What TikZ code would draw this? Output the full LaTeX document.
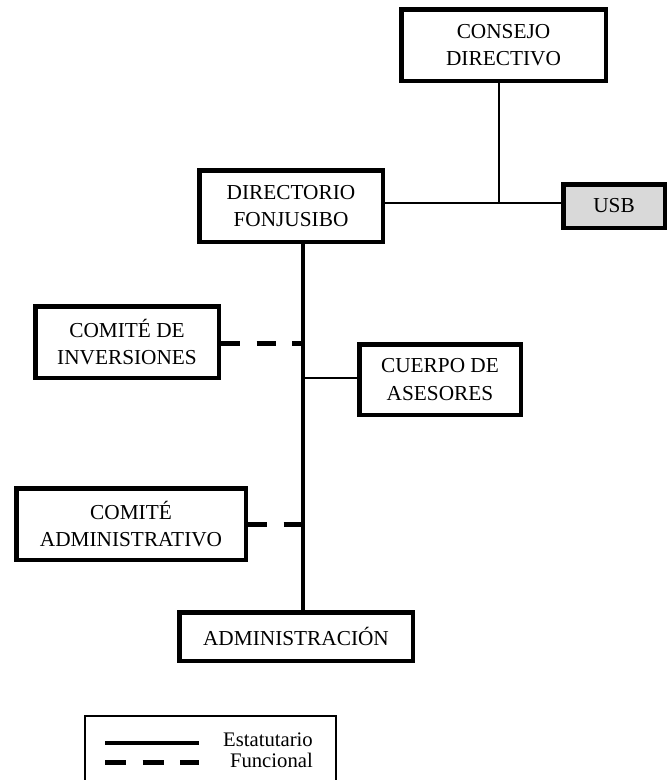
\documentclass[tikz,border=0pt]{standalone}
\usepackage{fontspec}
\setmainfont{Liberation Serif}
\definecolor{usbgray}{RGB}{217,217,217}
\tikzset{
  orgbox/.style={draw=black, line width=4.5pt, rectangle, align=center, inner sep=0pt,
    font=\fontsize{21.3}{27.7}\selectfont},
  thinlink/.style={line width=1.5pt},
  statlink/.style={line width=4pt},
  funclink/.style={line width=5pt, dash pattern=on 19pt off 16.5pt},
  legtext/.style={font=\fontsize{20.7}{24}\selectfont, inner sep=0pt, anchor=base east}
}
\begin{document}
\begin{tikzpicture}[x=1pt, y=-1pt]
\useasboundingbox (0,0) rectangle (670,780);
% boxes
\node[orgbox, minimum width=204.5pt, minimum height=71.5pt] (con) at (503.5,45) {CONSEJO\\DIRECTIVO};
\node[orgbox, minimum width=183.5pt, minimum height=71.5pt] (dir) at (291,206) {DIRECTORIO\\FONJUSIBO};
\node[orgbox, fill=usbgray, minimum width=101.5pt, minimum height=43.5pt] (usb) at (614,206) {USB};
\node[orgbox, minimum width=183.5pt, minimum height=71.5pt] (inv) at (127,342) {COMITÉ DE\\INVERSIONES};
\node[orgbox, minimum width=161.5pt, minimum height=70.5pt] (ase) at (440,379.5) {CUERPO DE\\ASESORES};
\node[orgbox, minimum width=229.5pt, minimum height=71.5pt] (cad) at (131,524) {COMITÉ\\ADMINISTRATIVO};
\node[orgbox, minimum width=233.5pt, minimum height=48.5pt] (adm) at (296,636.5) {ADMINISTRACIÓN};
% helper coordinates
\coordinate (spine) at (303,0);
\coordinate (j1) at (499,203);
\coordinate (jinv) at (303,343);
\coordinate (jase) at (303,378);
\coordinate (jcad) at (303,524);
% connectors
\draw[thinlink] (con.south -| j1) -- (j1);
\draw[thinlink] (dir.east |- j1) -- (usb.west |- j1);
\draw[statlink] (dir.south -| spine) -- (adm.north -| spine);
\draw[funclink] (inv.east |- jinv) -- (jinv);
\draw[thinlink] (jase) -- (ase.west |- jase);
\draw[funclink] (cad.east |- jcad) -- (jcad);
% legend
\draw[line width=1.5pt] (85,782) -- (85,716) -- (336,716) -- (336,782);
\coordinate (ls1) at (105,743);
\coordinate (le1) at (199,743);
\coordinate (ls2) at (105,762);
\coordinate (le2) at (199,762);
\draw[line width=4.5pt] (ls1) -- (le1);
\draw[line width=5pt, dash pattern=on 21pt off 16.5pt] (ls2) -- (le2);
\node[legtext] (lest) at (313,746) {Estatutario};
\node[legtext] (lfun) at (313,767) {Funcional};
\end{tikzpicture}
\end{document}
